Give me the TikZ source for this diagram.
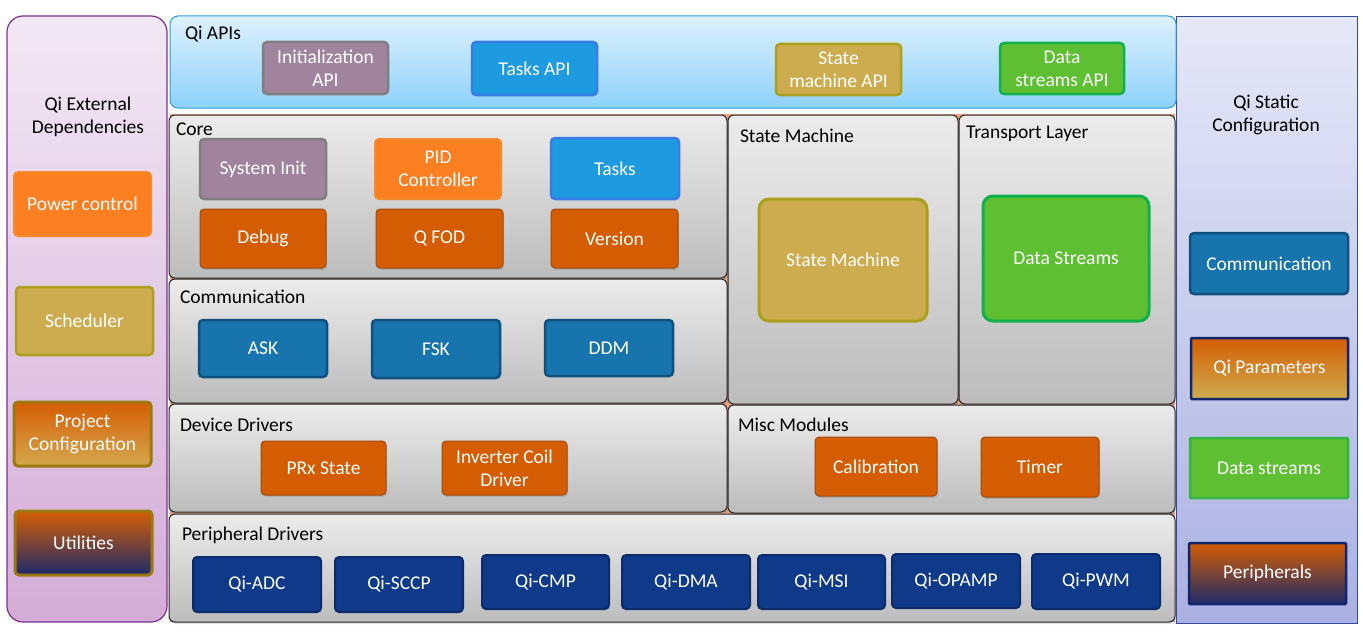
\documentclass[tikz,border=0pt]{standalone}
\usepackage{fontspec}
\setmainfont{Carlito}
\usetikzlibrary{shadows}
\definecolor{lpTop}{HTML}{F2E8F5}
\definecolor{lpBot}{HTML}{D3ACD6}
\definecolor{lpLine}{HTML}{7E3190}
\definecolor{rpTop}{HTML}{E6E8F7}
\definecolor{rpBot}{HTML}{AAB1E2}
\definecolor{rpLine}{HTML}{2F4AA0}
\definecolor{apiTop}{HTML}{DEF1FD}
\definecolor{apiBot}{HTML}{8DD1FB}
\definecolor{apiLine}{HTML}{2A9DE0}
\definecolor{gTop}{HTML}{ECECEC}
\definecolor{gBot}{HTML}{BCBCBC}
\definecolor{salmon}{HTML}{E8A27E}
\definecolor{purF}{HTML}{A0849E}
\definecolor{purL}{HTML}{7F7F7F}
\definecolor{orF}{HTML}{FC7F22}
\definecolor{orL}{HTML}{F58A2A}
\definecolor{tanF}{HTML}{CDAC50}
\definecolor{tanL}{HTML}{ABA01E}
\definecolor{blF}{HTML}{1E9BE0}
\definecolor{blL}{HTML}{3B7BE8}
\definecolor{grF}{HTML}{5EBF33}
\definecolor{grL}{HTML}{12B04B}
\definecolor{doF}{HTML}{D45D04}
\definecolor{doL}{HTML}{A14A10}
\definecolor{stF}{HTML}{1874AC}
\definecolor{stL}{HTML}{10507E}
\definecolor{nvF}{HTML}{0F3989}
\definecolor{nvL}{HTML}{0B2B6B}
\definecolor{gdOr}{HTML}{D55E04}
\definecolor{gdTan}{HTML}{D4A84E}
\definecolor{gdNavy}{HTML}{1E2A6A}
\definecolor{gdGold}{HTML}{9A7A10}
\definecolor{gdBlue}{HTML}{10256A}
\newcommand\mybox[7]{\node[#1, minimum width={(#5-#3)*1pt}, minimum height={(#6-#4)*1pt}] (#2) at ({(#3+#5)/2},{(#4+#6)/2}) {#7};}
\begin{document}
\begin{tikzpicture}[x=1pt,y=-1pt,
  every node/.style={inner sep=0pt, outer sep=0pt, font=\fontsize{19.5}{23}\selectfont},
  shp/.style={rectangle, draw},
  panel/.style={shp, draw=black!85, line width=1pt, rounded corners=6pt, top color=gTop, bottom color=gBot,
     drop shadow={shadow xshift=1pt, shadow yshift=-2pt, opacity=0.25}},
  title/.style={anchor=west, text=black},
  mod/.style={shp, rounded corners=4pt, text=white, align=center},
  purmod/.style={mod, fill=purF, draw=purL, line width=2.5pt},
  ormod/.style={mod, fill=orF, draw=orL, line width=2pt},
  tanmod/.style={mod, fill=tanF, draw=tanL, line width=2.5pt},
  blmod/.style={mod, fill=blF, draw=blL, line width=2.5pt},
  grmod/.style={mod, fill=grF, draw=grL, line width=2.5pt},
  domod/.style={mod, fill=doF, draw=doL, line width=1pt,
     drop shadow={shadow xshift=1pt, shadow yshift=-2pt, opacity=0.3}},
  stmod/.style={mod, fill=stF, draw=stL, line width=2.5pt},
  nvmod/.style={mod, fill=nvF, draw=nvL, line width=2pt},
  gradA/.style={mod, top color=gdOr, bottom color=gdTan, draw=gdGold, line width=3pt},
  gradB/.style={mod, top color=gdOr, bottom color=gdNavy, draw=gdGold, line width=3pt},
  gradC/.style={mod, rounded corners=1pt, top color=gdOr, bottom color=tanF, draw=gdBlue, line width=2.5pt},
  gradD/.style={mod, rounded corners=1pt, top color=gdOr, bottom color=gdNavy, draw=gdBlue, line width=2.5pt},
]
\useasboundingbox (0,0) rectangle (1363,634);
\fill[white] (0,0) rectangle (1363,634);

% left panel
\mybox{shp, draw=lpLine, line width=1.2pt, rounded corners=16pt, top color=lpTop, bottom color=lpBot}{leftp}{7}{16}{167}{622}{}
\node[align=center] (lefttitle) at (88,117) {Qi External\\Dependencies};
\mybox{ormod}{power}{14}{172}{151}{236}{Power control}
\mybox{tanmod}{sched}{16}{287}{153}{355}{Scheduler}
\mybox{gradA}{projconf}{14}{402}{151}{466}{Project\\Configuration}
\mybox{gradB}{util}{15}{511}{152}{575}{Utilities}

% right panel
\mybox{shp, draw=rpLine, line width=1pt, top color=rpTop, bottom color=rpBot}{rightp}{1176}{17}{1357}{623}{}
\node[align=center] (righttitle) at (1266,115) {Qi Static\\Configuration};
\mybox{stmod}{rcomm}{1190}{233}{1348}{294}{Communication}
\mybox{gradC}{qiparam}{1191}{338}{1348}{399}{Qi Parameters}
\mybox{grmod, draw=grL!60!grF, rounded corners=1pt}{rdata}{1190}{438}{1348}{498}{Data streams}
\mybox{gradD}{rperiph}{1189}{543}{1346}{604}{Peripherals}

% salmon backing
\fill[salmon] (169.5,114) rectangle (1174.5,622);

% APIs panel
\mybox{shp, draw=apiLine, line width=1pt, rounded corners=8pt, top color=apiTop, bottom color=apiBot}{apip}{170}{16}{1176}{108}{}
\node[title] (apititle) at (185,34) {Qi APIs};
\mybox{purmod}{initapi}{263}{42}{388}{94}{Initialization\\API}
\mybox{blmod}{tasksapi}{472}{42}{597}{95}{Tasks API}
\mybox{tanmod}{smapi}{776}{44}{901}{95}{State\\machine API}
\mybox{grmod}{dsapi}{1000}{43}{1124}{94}{Data\\streams API}

% Core
\mybox{panel}{corep}{169}{115}{727}{278}{}
\node[title] (coretitle) at (176,129) {Core};
\mybox{purmod}{sysinit}{200}{139}{326}{199}{System Init}
\mybox{ormod}{pid}{375}{139}{501}{199}{PID\\Controller}
\mybox{blmod}{tasks}{551}{138}{679}{199}{Tasks}
\mybox{domod}{debug}{200}{209}{326}{268}{Debug}
\mybox{domod}{qfod}{376}{209}{503}{268}{Q FOD}
\mybox{domod}{version}{551}{209}{678}{268}{Version}

% Communication
\mybox{panel}{commp}{169}{279}{727}{403}{}
\node[title] (commtitle) at (180,297) {Communication};
\mybox{stmod}{ask}{199}{320}{327}{377}{ASK}
\mybox{stmod}{fsk}{372}{320}{500}{378}{FSK}
\mybox{stmod}{ddm}{545}{320}{673}{376}{DDM}

% Device Drivers
\mybox{panel}{devp}{169}{404}{727}{512}{}
\node[title] (devtitle) at (180,425) {Device Drivers};
\mybox{domod}{prx}{261}{441}{386}{495}{PRx State}
\mybox{domod}{inv}{442}{441}{567}{495}{Inverter Coil\\Driver}

% State Machine
\mybox{panel}{smp}{728}{115}{958}{404}{}
\node[title] (smtitle) at (740,136) {State Machine};
\mybox{tanmod, rounded corners=10pt, line width=3pt}{smbox}{759}{199}{927}{321}{State Machine}

% Transport Layer
\mybox{panel}{tlp}{959}{115}{1175}{404}{}
\node[title] (tltitle) at (966,134) {Transport Layer};
\mybox{grmod, rounded corners=10pt, line width=3pt}{dsbox}{983}{196}{1149}{321}{Data Streams}

% Misc Modules
\mybox{panel}{miscp}{728}{405}{1175}{513}{}
\node[title] (misctitle) at (738,425) {Misc Modules};
\mybox{domod}{calib}{815}{437}{937}{496}{Calibration}
\mybox{domod}{timer}{981}{437}{1099}{497}{Timer}

% Peripheral Drivers
\mybox{panel}{perp}{169}{514}{1175}{622}{}
\node[title] (pertitle) at (182,535) {Peripheral Drivers};
\mybox{nvmod}{adc}{193}{557}{321}{612}{Qi-ADC}
\mybox{nvmod}{sccp}{335}{557}{463}{612}{Qi-SCCP}
\mybox{nvmod}{cmp}{482}{555}{609}{609}{Qi-CMP}
\mybox{nvmod}{dma}{622}{555}{750}{609}{Qi-DMA}
\mybox{nvmod}{msi}{758}{555}{885}{609}{Qi-MSI}
\mybox{nvmod}{opamp}{892}{554}{1020}{608}{Qi-OPAMP}
\mybox{nvmod}{pwm}{1032}{554}{1160}{609}{Qi-PWM}
\end{tikzpicture}
\end{document}
